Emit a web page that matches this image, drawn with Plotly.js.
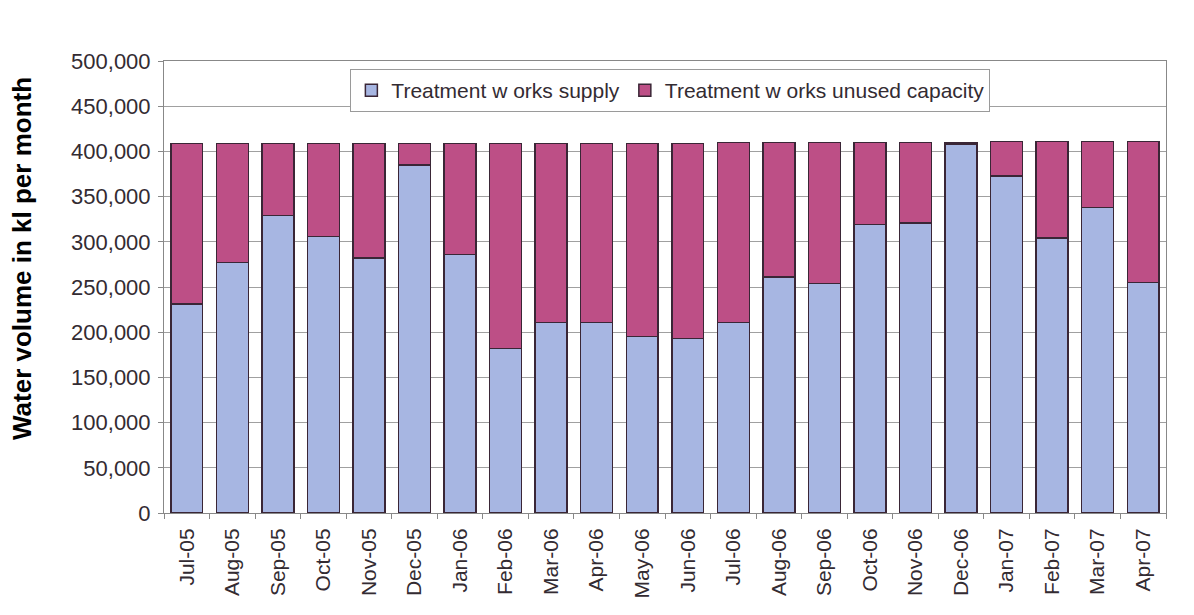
<!DOCTYPE html>
<html>
<head>
<meta charset="utf-8">
<script src="https://cdn.plot.ly/plotly-3.0.1.min.js"></script>
<style>
  html, body { margin: 0; padding: 0; background: #fff; }
  #chart { width: 1194px; height: 615px; }
</style>
</head>
<body>
<div id="chart"></div>
<script>
// months on the x axis
var months = ["Jul-05", "Aug-05", "Sep-05", "Oct-05", "Nov-05", "Dec-05", "Jan-06", "Feb-06",
              "Mar-06", "Apr-06", "May-06", "Jun-06", "Jul-06", "Aug-06", "Sep-06", "Oct-06",
              "Nov-06", "Dec-06", "Jan-07", "Feb-07", "Mar-07", "Apr-07"];

// kl per month actually supplied
var supply = [231000, 277000, 329000, 306000, 282000, 385000, 286000, 182000,
              211000, 211000, 195000, 193000, 211000, 261000, 254000, 319000,
              321000, 408000, 373000, 304000, 338000, 255000];

// total treatment capacity per month
var capacity = [409000, 409000, 409000, 409000, 409000, 409000, 409000, 409000,
                409000, 409000, 409000, 409000, 410000, 410000, 410000, 410000,
                410000, 410000, 411000, 411000, 411000, 411000];

var unused = capacity.map(function (c, i) { return c - supply[i]; });

var yTicks = [0, 50000, 100000, 150000, 200000, 250000, 300000, 350000, 400000, 450000, 500000];
var yTickText = ["0", "50,000", "100,000", "150,000", "200,000", "250,000", "300,000",
                 "350,000", "400,000", "450,000", "500,000"];

var edge = {color: '#3a2636', width: 1.5};

var supplyTrace = {
    x: months,
    y: supply,
    type: 'bar',
    name: 'Treatment w orks supply',
    marker: {color: '#a7b6e2', line: edge}
};
var unusedTrace = {
    x: months,
    y: unused,
    type: 'bar',
    name: 'Treatment w orks unused capacity',
    marker: {color: '#bd4f86', line: edge}
};

var layout = {
    width: 1194,
    height: 615,
    barmode: 'stack',
    bargap: 0.3,
    paper_bgcolor: '#ffffff',
    plot_bgcolor: '#ffffff',
    margin: {l: 164, r: 28, t: 61, b: 102},
    font: {family: 'Arial, "Liberation Sans", sans-serif', color: '#332b32', size: 21},
    showlegend: true,
    legend: {
        orientation: 'h',
        x: 0.186, y: 0.982,
        xanchor: 'left', yanchor: 'top',
        bgcolor: '#ffffff',
        bordercolor: '#9a9a9a',
        borderwidth: 1,
        itemwidth: 30,
        font: {size: 21, color: '#332b32'},
        traceorder: 'normal'
    },
    xaxis: {
        type: 'category',
        tickangle: -90,
        ticks: 'outside',
        tickson: 'boundaries',
        ticklen: 5,
        tickcolor: '#888',
        ticklabelstandoff: 6,
        showline: true,
        linecolor: '#888',
        mirror: true,
        showgrid: false,
        tickfont: {size: 21}
    },
    yaxis: {
        range: [0, 500000],
        tickvals: yTicks,
        ticktext: yTickText,
        ticks: 'outside',
        ticklen: 5,
        tickcolor: '#888',
        ticklabelstandoff: 3,
        showline: true,
        linecolor: '#888',
        mirror: true,
        showgrid: true,
        gridcolor: '#a0a0a0',
        gridwidth: 1,
        zeroline: false,
        tickfont: {size: 22}
    },
    annotations: [{
        text: '<b>Water volume in kl per month</b>',
        xref: 'paper', yref: 'paper',
        x: -0.1417, y: 0.562,
        xanchor: 'center', yanchor: 'middle',
        textangle: -90,
        showarrow: false,
        font: {size: 26, color: '#000'}
    }]
};

Plotly.newPlot('chart', [supplyTrace, unusedTrace], layout, {staticPlot: true});
</script>
</body>
</html>
